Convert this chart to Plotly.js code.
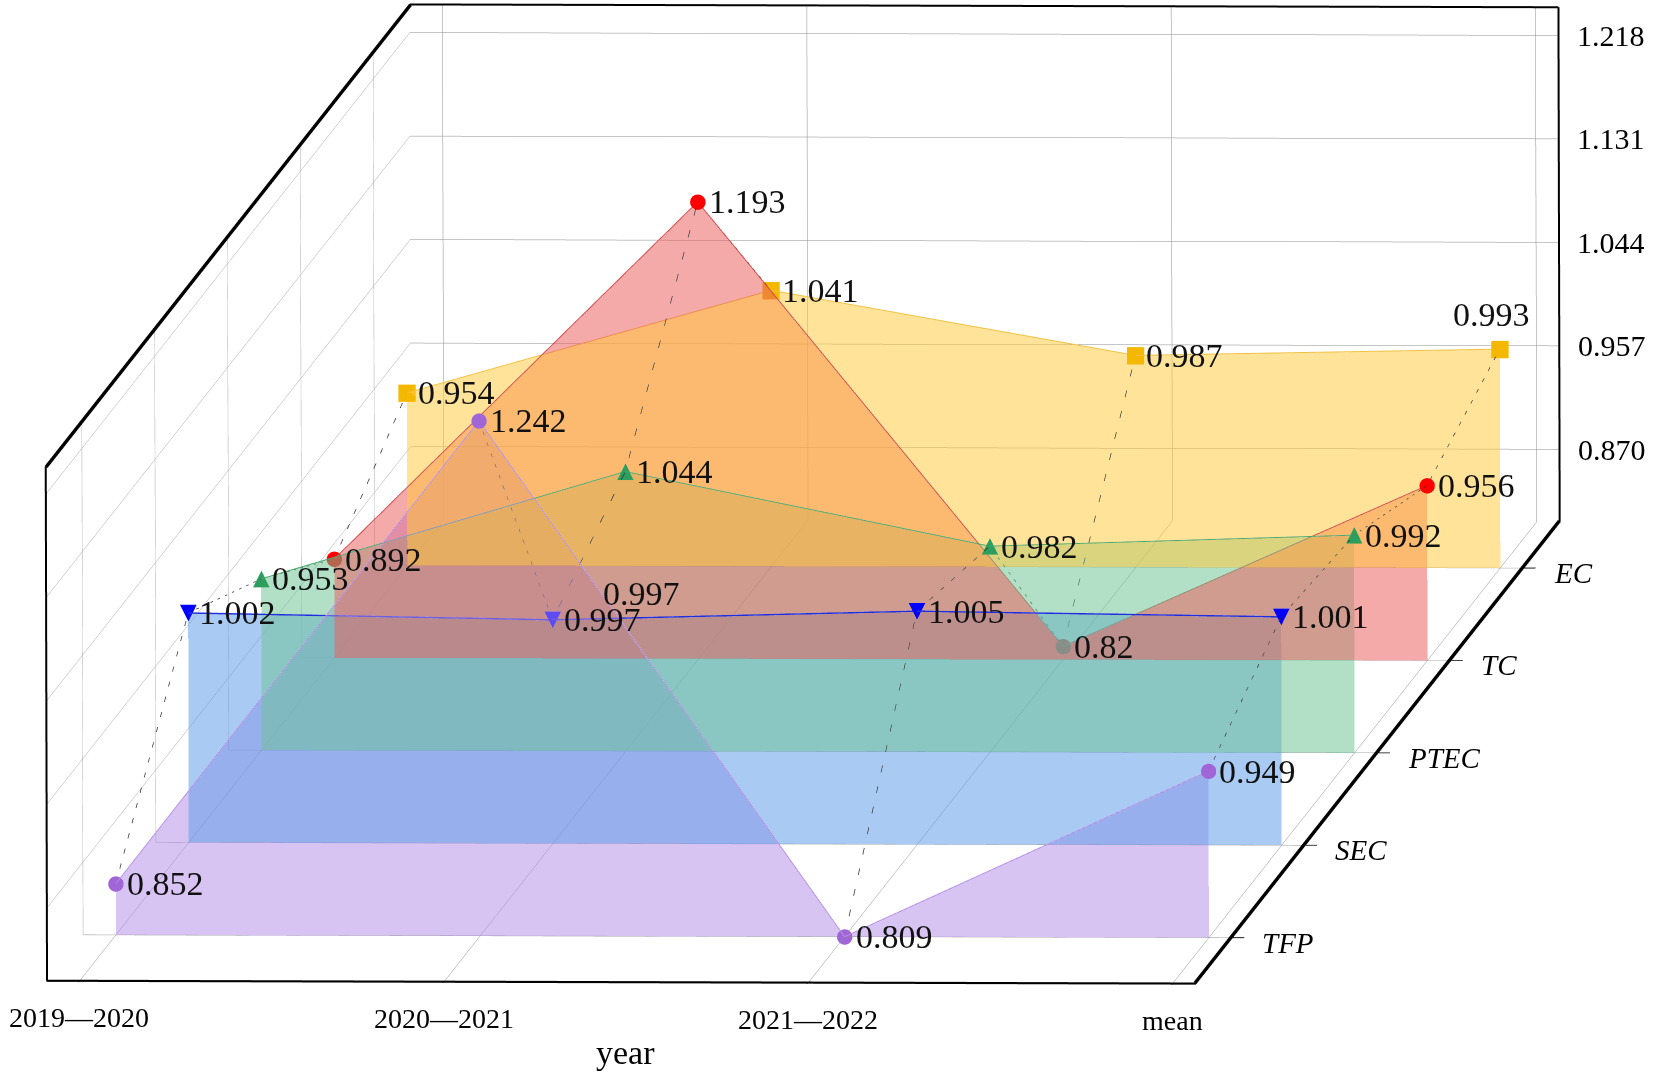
<!DOCTYPE html>
<html>
<head>
<meta charset="utf-8">
<script src="https://cdn.plot.ly/plotly-3.0.1.min.js"></script>
<style>
  html, body { margin: 0; padding: 0; background: #fff; }
  #chart { width: 1654px; height: 1076px; }
</style>
</head>
<body>
<div id="chart"></div>
<script>
// Chart data
const years = ['2019—2020', '2020—2021', '2021—2022', 'mean'];
const seriesNames = ['TFP', 'SEC', 'PTEC', 'TC', 'EC'];
const tfp = [0.852, 1.242, 0.809, 0.949];
const sec = [1.002, 0.997, 1.005, 1.001];
const ptec = [0.953, 1.044, 0.982, 0.992];
const tc = [0.892, 1.193, 0.82, 0.956];
const ec = [0.954, 1.041, 0.987, 0.993];
const zTicks = [0.870, 0.957, 1.044, 1.131, 1.218];

// Axis ranges
const xRange = [-0.09, 3.064];
const yRange = [0.5, 5.5];
const zRange = [0.809, 1.242];

const serif = 'Liberation Serif, Times New Roman, serif';
const xIdx = years.map((_, i) => i);
const depths = seriesNames.map((_, k) => k + 1);

// Per-series styling
const styles = [
  { data: tfp, fill: '#b58ee6', line: '#b58ee6', mark: '#a066d8', symbol: 'circle', lw: 2 },
  { data: sec, fill: '#5a9ae8', line: '#1f2ee0', mark: '#0000ff', glyph: '▼', lw: 3 },
  { data: ptec, fill: '#6cc495', line: '#4aa86f', mark: '#2e9e5e', glyph: '▲', lw: 2 },
  { data: tc, fill: '#ec5c5c', line: '#d04848', mark: '#ff0000', symbol: 'circle', lw: 2 },
  { data: ec, fill: '#ffc93a', line: '#f0c040', mark: '#f5b800', symbol: 'square', lw: 2 },
];

const traces = [];

// Filled areas under each series, drawn as meshes down to the floor
styles.forEach((s, k) => {
  const mx = [], my = [], mz = [], ii = [], jj = [], kk = [];
  s.data.forEach((v, i) => {
    mx.push(xIdx[i], xIdx[i]);
    my.push(depths[k], depths[k]);
    mz.push(v, zRange[0]);
  });
  for (let i = 0; i < s.data.length - 1; i++) {
    const t0 = 2 * i, b0 = 2 * i + 1, t1 = 2 * i + 2, b1 = 2 * i + 3;
    ii.push(t0, b0); jj.push(b0, b1); kk.push(t1, t1);
  }
  traces.push({
    type: 'mesh3d', x: mx, y: my, z: mz, i: ii, j: jj, k: kk,
    color: s.fill, opacity: 0.52, flatshading: true,
    lighting: { ambient: 1, diffuse: 0, specular: 0, roughness: 1, fresnel: 0 },
    hoverinfo: 'skip', showscale: false,
  });
});

// Dashed connectors between series at each year
xIdx.forEach((x, i) => {
  traces.push({
    type: 'scatter3d', mode: 'lines',
    x: styles.map(() => x),
    y: depths,
    z: styles.map((s) => s.data[i]),
    line: { color: '#333', width: 1.5, dash: 'dash' },
    hoverinfo: 'skip', showlegend: false,
  });
});

// Series lines and markers
styles.forEach((s, k) => {
  const ys = s.data.map(() => depths[k]);
  traces.push({
    type: 'scatter3d', mode: s.symbol ? 'lines+markers' : 'lines',
    x: xIdx, y: ys, z: s.data,
    line: { color: s.line, width: s.lw },
    marker: { color: s.mark, size: 9, symbol: s.symbol || 'circle', line: { width: 0 } },
    hoverinfo: 'skip', showlegend: false,
  });
  if (s.glyph) {
    traces.push({
      type: 'scatter3d', mode: 'text',
      x: xIdx, y: ys, z: s.data,
      text: s.data.map(() => s.glyph),
      textposition: 'middle center',
      textfont: { family: 'DejaVu Sans', size: 22, color: s.mark },
      hoverinfo: 'skip', showlegend: false,
    });
  }
});

// Box outline, kept a hair inside the ranges so it is not clipped
const [x0, x1] = xRange, [y0, y1] = yRange, [z0, z1] = zRange;
const px = { x: (x1 - x0) / 1150, y: (y1 - y0) / 600, z: (z1 - z0) / 513 };
function edge(xs, ys, zs, width) {
  traces.push({
    type: 'scatter3d', mode: 'lines', x: xs, y: ys, z: zs,
    line: { color: '#000', width: width },
    hoverinfo: 'skip', showlegend: false,
  });
}
const xa = x0 + px.x * 0.3, xb = x1 - px.x * 0.3;
const za = z0 + px.z * 0.3, zb = z1 - px.z * 0.3;
const ya = y0 + px.y * 0.1, yb = y1 - px.y * 0.1;
edge([xa, xa], [ya, ya], [za, zb], 4);
edge([xa, xb], [yb, yb], [zb, zb], 4);
edge([xb, xb], [yb, yb], [zb, za], 4);
edge([xb, xa], [ya, ya], [za, za], 4);
// depth edges render thin, so stack two side by side
[0, 1].forEach((j) => {
  edge([xa + j * px.x, xa + j * px.x], [ya, yb], [zb - j * px.z, zb - j * px.z], 4);
  edge([xb - j * px.x, xb - j * px.x], [ya, yb], [za + j * px.z, za + j * px.z], 4);
});

// Text placed in the scene: value labels and axis labels
const annotations = [];
const labelFont = { family: serif, size: 34, color: '#111' };
styles.forEach((s, k) => {
  s.data.forEach((v, i) => {
    const top = k === 4 && i === 3;
    annotations.push({
      x: xIdx[i], y: depths[k], z: v, text: String(v), showarrow: false, font: labelFont,
      xanchor: top ? 'center' : 'left', yanchor: top ? 'bottom' : 'middle',
      xshift: top ? -8 : 9, yshift: top ? 14 : 0,
    });
  });
});
// Second label drawn for SEC 2020—2021, as in the original figure
annotations.push({
  x: xIdx[1], y: depths[1], z: sec[1], text: String(sec[1]), showarrow: false, font: labelFont,
  xanchor: 'left', yanchor: 'middle', xshift: 48, yshift: 26,
});
years.forEach((t, i) => {
  annotations.push({
    x: xIdx[i], y: y0, z: z0, text: t, showarrow: false,
    font: { family: serif, size: 28, color: '#000' },
    xanchor: 'center', yanchor: 'top', yshift: -19,
  });
});
annotations.push({
  x: (xIdx[0] + xIdx[xIdx.length - 1]) / 2, y: y0, z: z0, text: 'year', showarrow: false,
  font: { family: serif, size: 34, color: '#000' },
  xanchor: 'center', yanchor: 'middle', yshift: -70,
});
seriesNames.forEach((t, k) => {
  annotations.push({
    x: x1, y: depths[k], z: z0, text: '<i>' + t + '</i>', showarrow: false,
    font: { family: serif, size: 29, color: '#000' },
    xanchor: 'left', yanchor: 'middle', xshift: 28, yshift: -5,
  });
});
zTicks.forEach((v) => {
  annotations.push({
    x: x1, y: y1, z: v, text: v.toFixed(3), showarrow: false,
    font: { family: serif, size: 30, color: '#000' },
    xanchor: 'left', yanchor: 'middle', xshift: 16,
  });
});

const axisBase = {
  showbackground: false,
  showgrid: true, gridcolor: '#8c8c8c', gridwidth: 1,
  showline: true, linecolor: '#000', linewidth: 3,
  ticks: 'outside', tickcolor: '#000', ticklen: 12, tickwidth: 2,
  showticklabels: false,
  zeroline: false, showspikes: false,
  title: { text: '' },
};

// Camera: nearly head-on orthographic view, tilted so depth runs up and to the right
const viewDir = [0.06192, -0.99499, 0.07853];
const upDir = [-0.002439, 0.07853, 0.99691];
const center = { x: 0.045, y: 0, z: -0.082 };
const dist = 8;
const zoom = 2.14;

const layout = {
  width: 1654, height: 1076,
  margin: { l: 0, r: 0, t: 0, b: 0 },
  paper_bgcolor: '#fff',
  showlegend: false,
  scene: {
    domain: { x: [0, 1], y: [0, 1] },
    aspectmode: 'manual',
    aspectratio: { x: 1 * zoom, y: 5.11 * zoom, z: 0.4487 * zoom },
    camera: {
      projection: { type: 'orthographic' },
      eye: {
        x: center.x + viewDir[0] * dist,
        y: center.y + viewDir[1] * dist,
        z: center.z + viewDir[2] * dist,
      },
      up: { x: upDir[0], y: upDir[1], z: upDir[2] },
      center: center,
    },
    xaxis: Object.assign({}, axisBase, { range: xRange, tickvals: xIdx }),
    yaxis: Object.assign({}, axisBase, { range: yRange, tickvals: depths }),
    zaxis: Object.assign({}, axisBase, { range: zRange, tickvals: zTicks, ticks: '', showline: false }),
    annotations: annotations,
  },
};

Plotly.newPlot('chart', traces, layout, { displayModeBar: false, responsive: false });
</script>
</body>
</html>
